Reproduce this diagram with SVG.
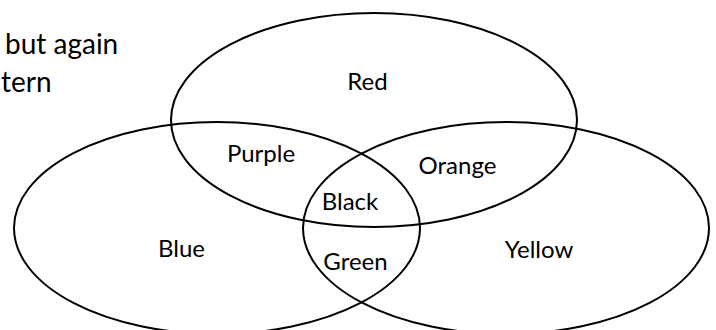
<svg xmlns="http://www.w3.org/2000/svg" width="716" height="330" viewBox="0 0 716 330">
  <style>
    .set { fill: none; stroke: #000; stroke-width: 2; }
    .lbl { font-family: Lato, "Liberation Sans", sans-serif; font-size: 24px; fill: #000; text-anchor: middle; }
    .note { font-family: Lato, "Liberation Sans", sans-serif; font-size: 28px; fill: #000; }
  </style>
  <rect width="716" height="330" fill="#fff"/>
  <g id="caption">
    <text class="note" x="5" y="54">but again</text>
    <text class="note" x="1" y="92">tern</text>
  </g>
  <g id="red">
    <ellipse class="set" cx="374" cy="120" rx="203" ry="107"/>
    <text class="lbl" x="367.5" y="90">Red</text>
  </g>
  <g id="blue">
    <ellipse class="set" cx="217" cy="228" rx="203" ry="106"/>
    <text class="lbl" x="181.5" y="257">Blue</text>
  </g>
  <g id="yellow">
    <ellipse class="set" cx="506" cy="228" rx="203" ry="106"/>
    <text class="lbl" x="539" y="258">Yellow</text>
  </g>
  <g id="purple">
    <text class="lbl" x="261" y="162">Purple</text>
  </g>
  <g id="orange">
    <text class="lbl" x="457.5" y="174">Orange</text>
  </g>
  <g id="black">
    <text class="lbl" x="350" y="210">Black</text>
  </g>
  <g id="green">
    <text class="lbl" x="355.5" y="270">Green</text>
  </g>
</svg>
